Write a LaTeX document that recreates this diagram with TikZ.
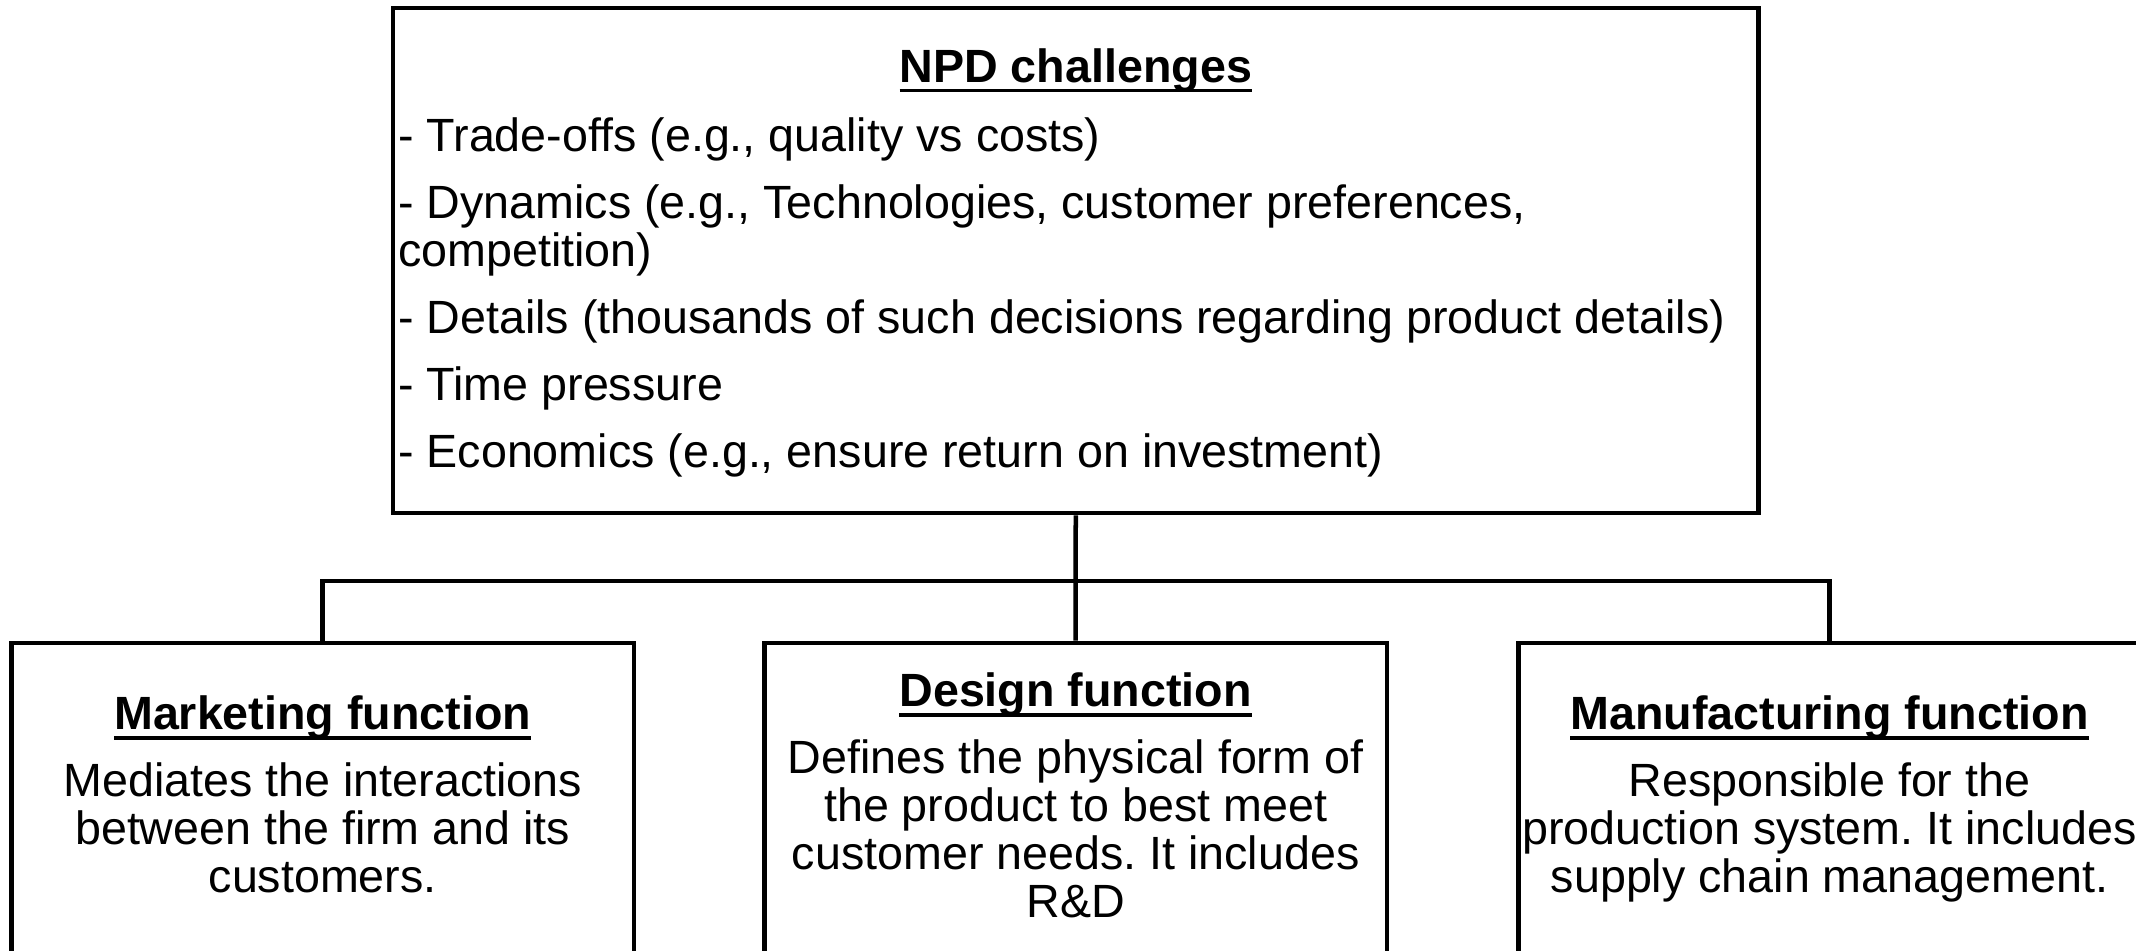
\documentclass[tikz,border=0pt]{standalone}
\usepackage{fontspec}
\setmainfont{Liberation Sans}
\usetikzlibrary{positioning}
\frenchspacing

% bold heading with a low underline
\newcommand\heading[1]{\setbox0\hbox{\bfseries #1}\rlap{\rule[-0.22em]{\wd0}{0.08em}}\box0}

\begin{document}
\begin{tikzpicture}[x=0.01cm,y=-0.01cm,line width=0.045cm,
    box/.style = {draw,rectangle,inner sep=0pt},
    func/.style = {box,minimum width=6.22cm,minimum height=3.12cm},
    body/.style = {inner sep=0pt,font=\fontsize{13.26}{13.66}\selectfont}]

        \useasboundingbox (0,0) rectangle (2136,950);
        \clip (0,0) rectangle (2136,950);

        % NPD challenges
        \node [box,minimum width=13.645cm,minimum height=5.047cm] (npd) at (1075.75,260.65){};
        \node [body,anchor=base] (npdtitle) at (1075.75,82) {\heading{NPD challenges}};
        \node [body,align=left,anchor=north west] (npdlist) at (396,115)
            {- Trade-offs (e.g., quality vs costs)\\[0.19cm]
             - Dynamics (e.g., Technologies, customer preferences,\\
             competition)\\[0.19cm]
             - Details (thousands of such decisions regarding product details)\\[0.19cm]
             - Time pressure\\[0.19cm]
             - Economics (e.g., ensure return on investment)};

        % the three functions
        \node [func] (mkt) at (322.7,799){};
        \node [func] (dsg) at (1075.6,799){};
        \node [func] (mfg) at (1829.5,799){};

        \node [body,align=center,below=0.53cm of mkt.north] (mkttext)
            {\heading{Marketing function}\\[0.19cm]
             Mediates the interactions\\ between the firm and its\\ customers.};
        \node [body,align=center,below=0.30cm of dsg.north] (dsgtext)
            {\heading{Design function}\\[0.19cm]
             Defines the physical form of\\ the product to best meet\\
             customer needs. It includes\\ R\&D};
        \node [body,align=center,below=0.53cm of mfg.north] (mfgtext)
            {\heading{Manufacturing function}\\[0.19cm]
             Responsible for the\\ production system. It includes\\
             supply chain management.};

        % tree lines
        \coordinate [below=0.655cm of npd.south] (bus);
        \draw (npd.south) -- (dsg.north);
        \draw (mkt.north) |- (bus) -| (mfg.north);

    \end{tikzpicture}
\end{document}
